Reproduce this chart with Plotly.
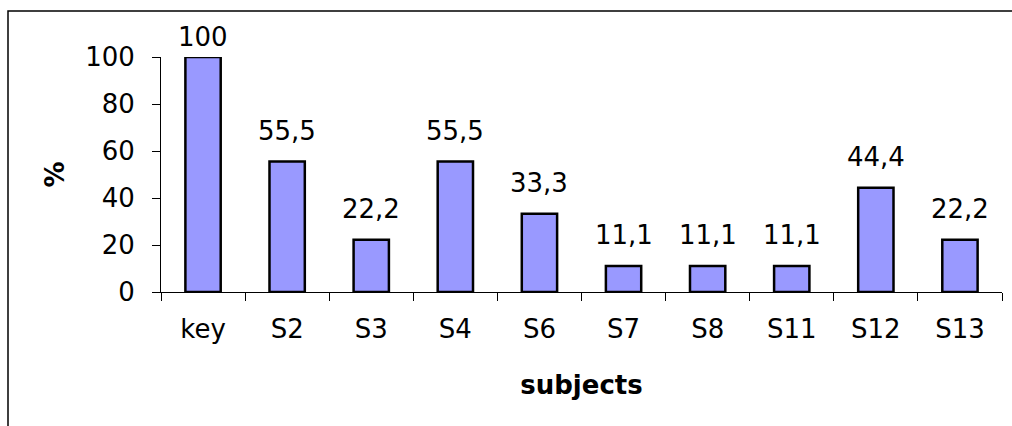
import plotly.graph_objects as go

# Share of items per subject (%)
subjects = ["key", "S2", "S3", "S4", "S6", "S7", "S8", "S11", "S12", "S13"]
percent = [100, 55.5, 22.2, 55.5, 33.3, 11.1, 11.1, 11.1, 44.4, 22.2]
y_ticks = [0, 20, 40, 60, 80, 100]

Y_MAX = 100
FONT = "DejaVu Sans"
FS = 26
W, H = 1012, 426
M_L, M_R, M_T, M_B = 161, 10, 57, 134


def fmt(v):
    return f"{v:g}".replace(".", ",")


fig = go.Figure(
    go.Bar(
        x=subjects,
        y=percent,
        marker=dict(color="#9999FF", line=dict(color="black", width=2.5)),
        width=0.42,
        hoverinfo="x+y",
    )
)

# value labels above the bars (comma as decimal separator)
for s, v in zip(subjects, percent):
    fig.add_annotation(
        x=s, y=v, text=fmt(v), showarrow=False,
        yanchor="bottom", yshift=14 if v < Y_MAX else 3,
        font=dict(family=FONT, size=FS, color="black"),
    )

# outer chart-area frame (runs past the right and bottom edges)
pw = W - M_L - M_R
ph = H - M_T - M_B
fig.add_shape(
    type="rect", xref="paper", yref="paper",
    x0=(8 - M_L) / pw, x1=(W + 5 - M_L) / pw,
    y0=(H - M_B - (H + 5)) / ph, y1=(H - M_B - 11) / ph,
    line=dict(color="black", width=1.5), fillcolor="rgba(0,0,0,0)",
    layer="below",
)

fig.update_layout(
    width=W, height=H,
    margin=dict(l=M_L, r=M_R, t=M_T, b=M_B),
    paper_bgcolor="white", plot_bgcolor="white",
    showlegend=False,
    font=dict(family=FONT, size=FS, color="black"),
    xaxis=dict(
        showline=True, linecolor="black", linewidth=1,
        ticks="outside", ticklen=8, tickcolor="black", tickwidth=1,
        tickson="boundaries", showgrid=False,
        ticklabelstandoff=14,
        title=dict(text="<b>subjects</b>", font=dict(family=FONT, size=FS), standoff=32),
    ),
    yaxis=dict(
        range=[0, Y_MAX], tickvals=y_ticks,
        showline=True, linecolor="black", linewidth=1,
        ticks="outside", ticklen=8, tickcolor="black", tickwidth=1,
        showgrid=False, zeroline=False,
        ticklabelstandoff=12,
        title=dict(text="<b>%</b>", font=dict(family=FONT, size=FS), standoff=13),
    ),
)

fig.write_html("out.html")
